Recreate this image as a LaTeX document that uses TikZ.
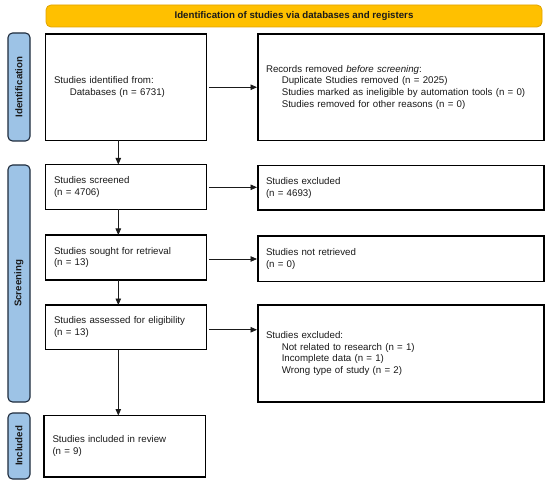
\documentclass[tikz,border=0pt]{standalone}
\usepackage{fontspec}
\setmainfont{Liberation Sans}
\usetikzlibrary{arrows.meta,calc}
\definecolor{bannerfill}{HTML}{FFC000}
\definecolor{bannerdraw}{HTML}{E0A300}
\definecolor{sidefill}{HTML}{9DC3E6}
\definecolor{sidedraw}{HTML}{1E2B3C}
\definecolor{txt}{HTML}{1A1A1A}
\tikzset{
  base/.style={font=\fontsize{9.7pt}{11.8pt}\selectfont, text=txt, outer sep=0pt},
  box/.style={base, draw=black, line width=1.1pt, rectangle, anchor=north west, align=left, inner ysep=2pt},
  lbox/.style={box, inner xsep=8.5pt, text width=144.2pt, minimum width=161.2pt},
  rbox/.style={box, inner xsep=8pt, text width=270pt, minimum width=286pt},
  side/.style={base, font=\fontsize{9.7pt}{11.8pt}\selectfont\bfseries, draw=sidedraw, fill=sidefill, line width=1.1pt, rounded corners=4.5pt, rotate=90, minimum height=22pt, inner sep=0pt},
  banner/.style={base, font=\fontsize{9.7pt}{11.8pt}\selectfont\bfseries, draw=bannerdraw, fill=bannerfill, line width=0.8pt, rounded corners=5pt, minimum width=496pt, minimum height=22pt, inner sep=0pt},
  arr/.style={draw=txt, line width=0.8pt, -{Triangle[length=6.5pt,width=5.5pt]}}
}
\newcommand{\ind}{\hspace*{15.8pt}}
\begin{document}
\begin{tikzpicture}[x=1pt,y=-1pt]
\useasboundingbox (0,0) rectangle (550,487);
\fill[white] (0,0) rectangle (550,487);

\node[banner] (ban) at (294,16) {Identification of studies via databases and registers};

\node[side, minimum width=108pt] (sid) at (19,87) {Identification};
\node[side, minimum width=237pt] (scr) at (19,283.5) {Screening};
\node[side, minimum width=66pt] (inc) at (19,446) {Included};

\node[lbox, minimum height=106.5pt] (b1) at (45.5,34) {Studies identified from:\\\ind Databases (n = 6731)};
\node[rbox, minimum height=106.5pt] (r1) at (258,34) {Records removed \textit{before screening}:\\\ind Duplicate Studies removed (n = 2025)\\\ind Studies marked as ineligible by automation tools (n = 0)\\\ind Studies removed for other reasons (n = 0)};

\node[lbox, minimum height=45pt] (b2) at (45.5,164.5) {Studies screened\\(n = 4706)};
\node[rbox, minimum height=44.5pt] (r2) at (258,165.5) {Studies excluded\\(n = 4693)};

\node[lbox, minimum height=45pt] (b3) at (45.5,235) {Studies sought for retrieval\\(n = 13)};
\node[rbox, minimum height=45.3pt] (r3) at (258,236) {Studies not retrieved\\(n = 0)};

\node[lbox, minimum height=44.5pt] (b4) at (45.5,305) {Studies assessed for eligibility\\(n = 13)};
\node[rbox, minimum height=97pt] (r4) at (258,305) {Studies excluded:\\\ind Not related to research (n = 1)\\\ind Incomplete data (n = 1)\\\ind Wrong type of study (n = 2)};

\node[lbox, minimum height=61.5pt] (b5) at (44,415.5) {Studies included in review\\(n = 9)};

\coordinate (ax) at (118.3,0);

\draw[arr] ([xshift=2.5pt]b1.east) -- ([xshift=-1pt]b1.east -| r1.west);
\draw[arr] ([xshift=2.5pt,yshift=-0.3pt]b2.east) -- ([xshift=-1pt,yshift=-0.3pt]b2.east -| r2.west);
\draw[arr] ([xshift=2.5pt,yshift=-1.5pt]b3.east) -- ([xshift=-1pt,yshift=-1.5pt]b3.east -| r3.west);
\draw[arr] ([xshift=2.5pt,yshift=-2.5pt]b4.east) -- ([xshift=-1pt,yshift=-2.5pt]b4.east -| r4.west);

\draw[arr] (b1.south -| ax) -- (b2.north -| ax);
\draw[arr] (b2.south -| ax) -- (b3.north -| ax);
\draw[arr] (b3.south -| ax) -- (b4.north -| ax);
\draw[arr] (b4.south -| ax) -- (b5.north -| ax);
\end{tikzpicture}
\end{document}
